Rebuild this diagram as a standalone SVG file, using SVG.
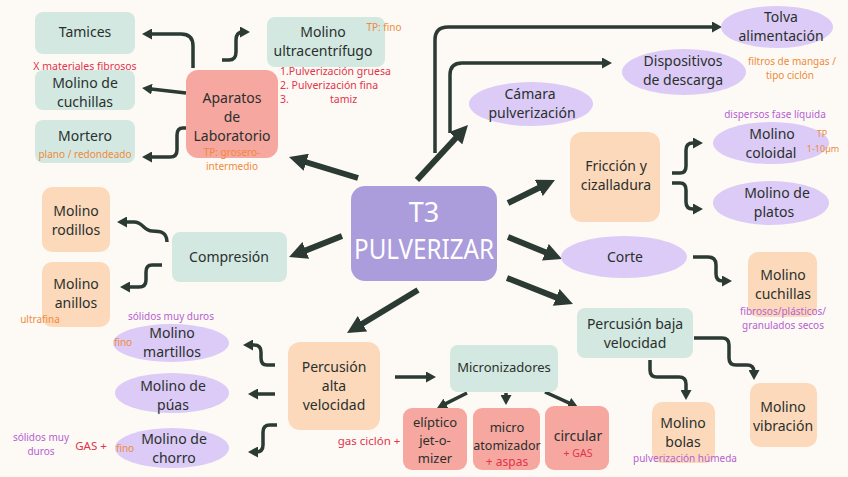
<svg xmlns="http://www.w3.org/2000/svg" width="848" height="477" viewBox="0 0 848 477">
<defs>
<style>
text{font-family:"Noto Sans","DejaVu Sans",sans-serif;text-anchor:middle}
.t{font-size:14px;fill:#2a302d}
.s{font-size:13px;fill:#2a302d}
.red{font-size:10.5px;fill:#e2344b}
.or{font-size:10px;fill:#ef8a3a}
.pu{font-size:10px;fill:#b65fd3}
.teal{fill:#d3e8e1}
.peach{fill:#fcd9bb}
.sal{fill:#f6a7a0}
.lav{fill:#dccbf6}
.thick{fill:none;stroke:#2b3a33;stroke-width:6;marker-end:url(#big)}
.thin{fill:none;stroke:#2b3a33;stroke-width:3.5;stroke-linejoin:round;marker-end:url(#sm)}
</style>
<marker id="big" markerUnits="userSpaceOnUse" markerWidth="18" markerHeight="18" viewBox="0 0 18 18" refX="6" refY="9" orient="auto"><path d="M0,0 L18,9 L0,18 z" fill="#2b3a33"/></marker>
<marker id="sm" markerUnits="userSpaceOnUse" markerWidth="10" markerHeight="11" viewBox="0 0 10 11" refX="3" refY="5.5" orient="auto"><path d="M0,0 L10,5.5 L0,11 z" fill="#2b3a33"/></marker>
</defs>
<rect width="848" height="477" fill="#fdfaf5"/>

<g id="connectors">
<path class="thick" d="M358,178 L300.5,160.5"/>
<path class="thick" d="M417,180 L459.8,133.8"/>
<path class="thick" d="M508,203 L544.2,185.3"/>
<path class="thick" d="M508,237 L550.9,254.5"/>
<path class="thick" d="M507,278 L561.8,299.6"/>
<path class="thick" d="M418,290 L357.3,326.8"/>
<path class="thick" d="M342,236 L300.2,252.6"/>
<path class="thin" d="M435,153 L435,40 Q435,27 448,27 L715,27"/>
<path class="thin" d="M450,133 L450,75 Q450,63 462,63 L605,63"/>
<path class="thin" d="M193,68 L193,46 Q193,34 181,34 L149,34"/>
<path class="thin" d="M186,93 L149,88.8"/>
<path class="thin" d="M187,128 L183,128 Q177,128 177,135 L177,150 Q177,157 170,157 L149,157"/>
<path class="thin" d="M222,60 L229,60 Q236,60 236,52 L236,40 Q236,32 243,32"/>
<path class="thin" d="M167,242 C167,232 160,231 152,231 C144,231 143,222 134,222 L124,222"/>
<path class="thin" d="M162,265 L152,265 Q146,265 146,272 L146,280 Q146,287 139,287 L127,287"/>
<path class="thin" d="M672,173 L680,173 Q686,173 686,166 L686,150 Q686,143 693,143 L696,143"/>
<path class="thin" d="M672,183 L680,183 Q686,183 686,190 L686,202 Q686,209 693,209 L696,209"/>
<path class="thin" d="M693,257 L708,257 Q716,257 716,265 L716,274 Q716,281 723,281 L725,281"/>
<path class="thin" d="M650,360 L650,370 Q650,377 657,377 L679,377 Q686,377 686,384 L686,393"/>
<path class="thin" d="M694,338 L722,338 Q729,338 729,345 L729,358 Q729,365 736,365 L747,365 Q754,365 754,372 L754,373"/>
<path class="thin" d="M275,365 L267,365 Q261,365 261,358 L261,352 Q261,345 254,345 L250,345"/>
<path class="thin" d="M275,394 L255,394"/>
<path class="thin" d="M277,425 L270,425 Q263,425 263,432 L263,445 Q263,452 256,452 L255,452"/>
<path class="thin" d="M395,377 L429,377"/>
<path class="thin" d="M467,393 L443.3,404.9"/>
<path class="thin" d="M506,393 L506,398"/>
<path class="thin" d="M545,392 L571.6,404.1"/>
</g>

<g id="center">
<rect x="351" y="186" width="146" height="95" rx="14" fill="#ab9cdc"/>
<text x="424" y="222" style="font-size:27px;fill:#fff">T3</text>
<text x="424" y="259" style="font-size:27px;fill:#fff" textLength="140" lengthAdjust="spacingAndGlyphs">PULVERIZAR</text>
</g>

<g id="tamices"><rect class="teal" x="35" y="12" width="100" height="42" rx="8"/><text class="t" x="85" y="37">Tamices</text></g>
<g id="molino-cuchillas-lab"><rect class="teal" x="35" y="70" width="100" height="40" rx="8"/>
<text class="red" x="85" y="70">X materiales fibrosos</text>
<text class="t" x="85" y="88">Molino de<tspan x="85" dy="19">cuchillas</tspan></text></g>
<g id="mortero"><rect class="teal" x="35" y="120" width="100" height="43" rx="8"/>
<text class="t" x="85" y="141">Mortero</text><text class="or" x="85" y="158">plano / redondeado</text></g>
<g id="aparatos"><rect class="sal" x="186" y="70" width="92" height="88" rx="12"/>
<text class="t" x="232" y="103">Aparatos<tspan x="232" dy="19">de</tspan><tspan x="232" dy="19">Laboratorio</tspan></text>
<text class="or" x="232" y="156">TP: grosero-<tspan x="232" dy="14">intermedio</tspan></text></g>
<g id="ultracentrifugo"><rect class="teal" x="267" y="17" width="118" height="50" rx="8"/>
<text class="t" x="323" y="37">Molino<tspan x="323" dy="19">ultracentrífugo</tspan></text>
<text class="or" x="384" y="31">TP: fino</text>
<text class="red" x="280" y="75" style="text-anchor:start">1.Pulverización gruesa<tspan x="280" dy="14">2.  Pulverización fina</tspan><tspan x="280" dy="14">3.</tspan><tspan x="330" dy="0">tamiz</tspan></text></g>
<g id="camara"><ellipse class="lav" cx="531" cy="104" rx="62" ry="22"/>
<text class="t" x="530" y="99">Cámara<tspan x="532" dy="19">pulverización</tspan></text></g>
<g id="dispositivos"><ellipse class="lav" cx="684" cy="72" rx="62" ry="23"/>
<text class="t" x="683" y="66">Dispositivos<tspan x="683" dy="19">de descarga</tspan></text>
<text class="or" x="792" y="65">filtros de mangas /<tspan x="790" dy="14">tipo ciclón</tspan></text></g>
<g id="tolva"><ellipse class="lav" cx="777" cy="27" rx="56" ry="21"/>
<text class="t" x="781" y="22">Tolva<tspan x="781" dy="19">alimentación</tspan></text></g>
<g id="friccion"><rect class="peach" x="570" y="132" width="90" height="90" rx="12"/>
<text class="t" x="616" y="171">Fricción y<tspan x="616" dy="19">cizalladura</tspan></text></g>
<g id="coloidal"><ellipse class="lav" cx="771" cy="143" rx="58" ry="21"/>
<text class="pu" x="775" y="118">dispersos fase líquida</text>
<text class="t" x="772" y="139">Molino<tspan x="771" dy="19">coloidal</tspan></text>
<text class="or" x="822" y="137" style="font-size:9px">TP<tspan x="823" dy="15">1-10µm</tspan></text></g>
<g id="platos"><ellipse class="lav" cx="771" cy="203" rx="58" ry="22"/>
<text class="t" x="777" y="198">Molino de<tspan x="774" dy="19">platos</tspan></text></g>
<g id="corte"><ellipse class="lav" cx="624" cy="257" rx="63" ry="21"/><text class="t" x="625" y="262">Corte</text></g>
<g id="molino-cuchillas"><rect class="peach" x="748" y="252" width="69" height="65" rx="10"/>
<text class="t" x="783" y="280">Molino<tspan x="783" dy="19">cuchillas</tspan></text>
<text class="pu" x="783" y="315">fibrosos/plásticos/<tspan x="783" dy="14">granulados secos</tspan></text></g>
<g id="percusion-baja"><rect class="teal" x="577" y="308" width="116" height="50" rx="8"/>
<text class="t" x="635" y="329">Percusión baja<tspan x="635" dy="19">velocidad</tspan></text></g>
<g id="bolas"><rect class="peach" x="652" y="402" width="63" height="61" rx="10"/>
<text class="t" x="683" y="428">Molino<tspan x="683" dy="19">bolas</tspan></text>
<text class="pu" x="685" y="462">pulverización húmeda</text></g>
<g id="vibracion"><rect class="peach" x="750" y="383" width="67" height="64" rx="10"/>
<text class="t" x="783" y="412">Molino<tspan x="783" dy="19">vibración</tspan></text></g>
<g id="compresion"><rect class="teal" x="172" y="232" width="115" height="50" rx="8"/><text class="t" x="229" y="262">Compresión</text></g>
<g id="rodillos"><rect class="peach" x="42" y="187" width="68" height="65" rx="10"/>
<text class="t" x="76" y="216">Molino<tspan x="76" dy="19">rodillos</tspan></text></g>
<g id="anillos"><rect class="peach" x="42" y="262" width="68" height="65" rx="10"/>
<text class="t" x="76" y="289">Molino<tspan x="76" dy="19">anillos</tspan></text>
<text class="or" x="40" y="323">ultrafina</text></g>
<g id="martillos"><ellipse class="lav" cx="171" cy="343" rx="58" ry="19"/>
<text class="pu" x="171" y="320">sólidos muy duros</text>
<text class="t" x="172" y="338">Molino<tspan x="172" dy="19">martillos</tspan></text>
<text class="or" x="123" y="346">fino</text></g>
<g id="puas"><ellipse class="lav" cx="172" cy="393" rx="57" ry="20"/>
<text class="t" x="173" y="391">Molino de<tspan x="173" dy="19">púas</tspan></text></g>
<g id="chorro"><ellipse class="lav" cx="172" cy="448" rx="57" ry="20"/>
<text class="t" x="174" y="444">Molino de<tspan x="174" dy="19">chorro</tspan></text>
<text class="pu" x="41" y="441">sólidos muy<tspan x="41" dy="14">duros</tspan></text>
<text class="red" x="91" y="450" style="font-size:11.5px">GAS +</text>
<text class="or" x="125" y="452">fino</text></g>
<g id="percusion-alta"><rect class="peach" x="288" y="342" width="92" height="88" rx="12"/>
<text class="t" x="334" y="372">Percusión<tspan x="334" dy="19">alta</tspan><tspan x="334" dy="19">velocidad</tspan></text></g>
<g id="micronizadores"><rect class="teal" x="450" y="345" width="108" height="47" rx="8"/><text class="s" x="504" y="372">Micronizadores</text></g>
<g id="eliptico"><rect class="sal" x="403" y="408" width="64" height="62" rx="9"/>
<text class="s" x="435" y="427">elíptico<tspan x="435" dy="18">jet-o-</tspan><tspan x="435" dy="18">mizer</tspan></text>
<text class="red" x="369" y="445" style="font-size:11.5px">gas ciclón +</text></g>
<g id="microatomizador"><rect class="sal" x="473" y="408" width="67" height="62" rx="9"/>
<text class="s" x="507" y="432">micro<tspan x="507" dy="17.5" style="font-size:12.5px">atomizador</tspan><tspan x="507" dy="16" style="font-size:12px;fill:#e2344b">+ aspas</tspan></text></g>
<g id="circular"><rect class="sal" x="545" y="406" width="64" height="64" rx="9"/>
<text class="t" x="578" y="441">circular<tspan x="578" dy="15.5" style="font-size:10.5px;fill:#e2344b">+ GAS</tspan></text></g>
</svg>
